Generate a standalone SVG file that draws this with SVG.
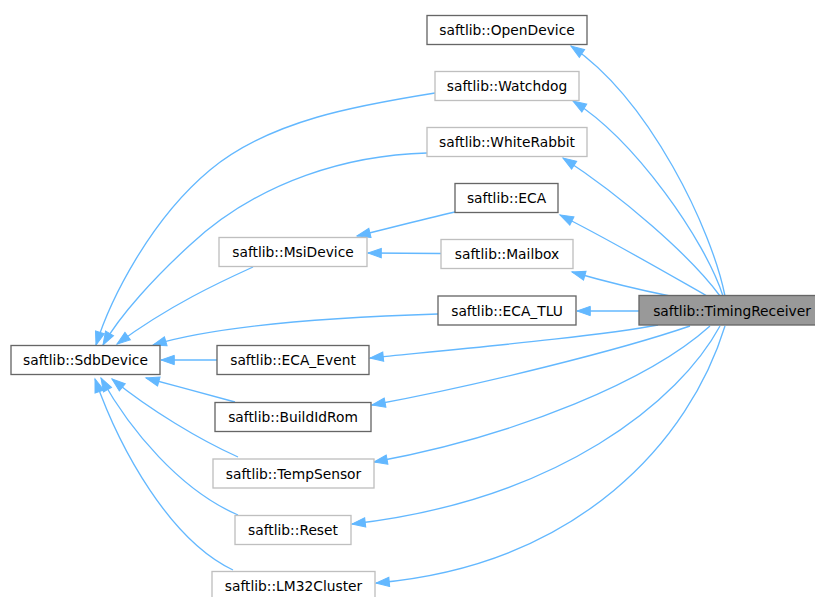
<svg xmlns="http://www.w3.org/2000/svg" width="815" height="597" viewBox="0 0 815 597">
  <style>
    .box { fill: #ffffff; stroke: #666666; stroke-width: 1.33; }
    .box.light { stroke: #bfbfbf; }
    .box.current { fill: #999999; stroke: #666666; }
    .lbl { font-family: "DejaVu Sans", "Noto Sans", sans-serif; font-size: 13.8px; fill: #000000; text-anchor: middle; }
    .edge { fill: none; stroke: #63b8ff; stroke-width: 1.33; marker-end: url(#ah); }
  </style>
  <defs>
    <marker id="ah" markerUnits="userSpaceOnUse" markerWidth="14" markerHeight="10" viewBox="0 0 14 10" refX="13.3" refY="4.65" orient="auto" overflow="visible">
      <path d="M0,0 L13.3,4.65 L0,9.3 z" fill="#63b8ff" stroke="#63b8ff" stroke-width="1"/>
    </marker>
  </defs>
  <rect width="815" height="597" fill="#ffffff"/>

  <g id="edges">
    <!-- TimingReceiver inherits from ... -->
    <path class="edge" d="M725,296 C712,230 650,100 571,46"/>
    <path class="edge" d="M723,296 C705,240 635,140 573,101"/>
    <path class="edge" d="M720,296 C690,255 620,195 563,158"/>
    <path class="edge" d="M707,296 C670,275 610,240 560,215"/>
    <path class="edge" d="M670,296 C640,290 600,280 572,272"/>
    <path class="edge" d="M639,311 L577,311"/>
    <path class="edge" d="M658,325 C600,336 480,347 370,358"/>
    <path class="edge" d="M690,326 C620,350 480,385 372,405"/>
    <path class="edge" d="M710,326 C650,380 520,435 374,462"/>
    <path class="edge" d="M720,326 C680,400 560,500 352,524"/>
    <path class="edge" d="M725,326 C690,440 580,565 376,583"/>
    <!-- ... inherit from SdbDevice -->
    <path class="edge" d="M435,93 C360,105 270,120 210,170 C150,220 110,300 96,345"/>
    <path class="edge" d="M427,153 C350,155 260,180 190,245 C155,277 120,315 103,345"/>
    <path class="edge" d="M253,267 C220,282 170,305 117,344"/>
    <path class="edge" d="M438,314 C340,317 220,325 153,345"/>
    <path class="edge" d="M217,360 L161,360"/>
    <path class="edge" d="M235,402 C210,395 175,386 146,378"/>
    <path class="edge" d="M238,457 C200,440 150,410 112,379"/>
    <path class="edge" d="M238,515 C180,490 130,430 101,378"/>
    <path class="edge" d="M233,570 C170,540 120,450 95,379"/>
    <!-- ... inherit from MsiDevice -->
    <path class="edge" d="M455,212 C420,220 390,228 357,236"/>
    <path class="edge" d="M441,253.5 L368,253"/>
  </g>

  <g id="node-TimingReceiver">
    <rect class="box current" x="639" y="295.5" width="180" height="29.5"/>
    <text class="lbl" x="732" y="315.5">saftlib::TimingReceiver</text>
  </g>
  <g id="node-OpenDevice">
    <rect class="box" x="427" y="15.5" width="160" height="29"/>
    <text class="lbl" x="507" y="35">saftlib::OpenDevice</text>
  </g>
  <g id="node-Watchdog">
    <rect class="box light" x="435" y="71.5" width="144" height="29"/>
    <text class="lbl" x="507" y="91">saftlib::Watchdog</text>
  </g>
  <g id="node-WhiteRabbit">
    <rect class="box light" x="427" y="127.5" width="160" height="29"/>
    <text class="lbl" x="507" y="147">saftlib::WhiteRabbit</text>
  </g>
  <g id="node-ECA">
    <rect class="box" x="455" y="183.5" width="103" height="29"/>
    <text class="lbl" x="506.5" y="203">saftlib::ECA</text>
  </g>
  <g id="node-Mailbox">
    <rect class="box light" x="441" y="239.5" width="132" height="29"/>
    <text class="lbl" x="507" y="259">saftlib::Mailbox</text>
  </g>
  <g id="node-ECA_TLU">
    <rect class="box" x="438" y="296" width="138" height="29"/>
    <text class="lbl" x="507" y="315.5">saftlib::ECA_TLU</text>
  </g>
  <g id="node-MsiDevice">
    <rect class="box light" x="219" y="237.5" width="148" height="29"/>
    <text class="lbl" x="293" y="257">saftlib::MsiDevice</text>
  </g>
  <g id="node-SdbDevice">
    <rect class="box" x="11" y="345.5" width="149" height="29"/>
    <text class="lbl" x="85.5" y="365">saftlib::SdbDevice</text>
  </g>
  <g id="node-ECA_Event">
    <rect class="box" x="217" y="345.5" width="152" height="29"/>
    <text class="lbl" x="293" y="365">saftlib::ECA_Event</text>
  </g>
  <g id="node-BuildIdRom">
    <rect class="box" x="215" y="402.5" width="156" height="29"/>
    <text class="lbl" x="293" y="422">saftlib::BuildIdRom</text>
  </g>
  <g id="node-TempSensor">
    <rect class="box light" x="213" y="459" width="161" height="29"/>
    <text class="lbl" x="293.5" y="478.5">saftlib::TempSensor</text>
  </g>
  <g id="node-Reset">
    <rect class="box light" x="235" y="515.5" width="116" height="29"/>
    <text class="lbl" x="293" y="535">saftlib::Reset</text>
  </g>
  <g id="node-LM32Cluster">
    <rect class="box light" x="212" y="571.5" width="163" height="29"/>
    <text class="lbl" x="293.5" y="591">saftlib::LM32Cluster</text>
  </g>
</svg>
